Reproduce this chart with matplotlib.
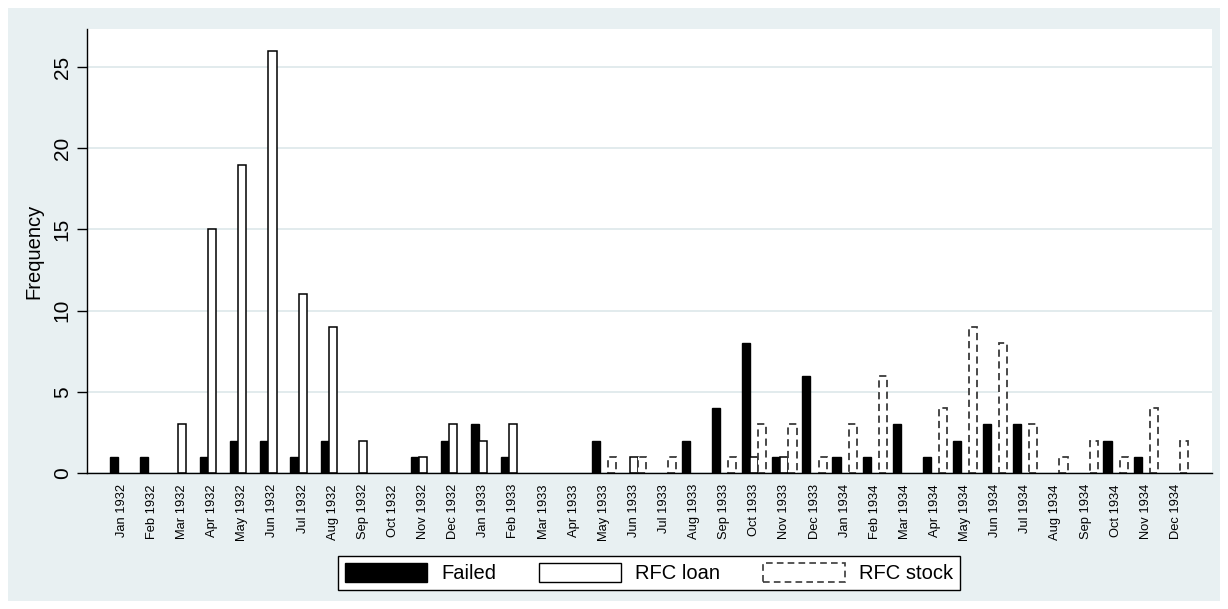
import matplotlib.pyplot as plt
import numpy as np
from matplotlib.patches import Patch, Rectangle

plt.rcParams['font.family'] = ['Liberation Sans', 'DejaVu Sans']

# monthly counts
months = ['Jan 1932', 'Feb 1932', 'Mar 1932', 'Apr 1932', 'May 1932', 'Jun 1932',
          'Jul 1932', 'Aug 1932', 'Sep 1932', 'Oct 1932', 'Nov 1932', 'Dec 1932',
          'Jan 1933', 'Feb 1933', 'Mar 1933', 'Apr 1933', 'May 1933', 'Jun 1933',
          'Jul 1933', 'Aug 1933', 'Sep 1933', 'Oct 1933', 'Nov 1933', 'Dec 1933',
          'Jan 1934', 'Feb 1934', 'Mar 1934', 'Apr 1934', 'May 1934', 'Jun 1934',
          'Jul 1934', 'Aug 1934', 'Sep 1934', 'Oct 1934', 'Nov 1934', 'Dec 1934']
failed = [1, 1, 0, 1, 2, 2, 1, 2, 0, 0, 1, 2,
          3, 1, 0, 0, 2, 0, 0, 2, 4, 8, 1, 6,
          1, 1, 3, 1, 2, 3, 3, 0, 0, 2, 1, 0]
rfc_loan = [0, 0, 3, 15, 19, 26, 11, 9, 2, 0, 1, 3,
            2, 3, 0, 0, 0, 1, 0, 0, 0, 1, 1, 0,
            0, 0, 0, 0, 0, 0, 0, 0, 0, 0, 0, 0]
rfc_stock = [0, 0, 0, 0, 0, 0, 0, 0, 0, 0, 0, 0,
             0, 0, 0, 0, 1, 1, 1, 0, 1, 3, 3, 1,
             3, 6, 0, 4, 9, 8, 3, 1, 2, 1, 4, 2]

bg = '#e8f0f2'
grid_col = '#dde7ea'
stock_col = '#3a3a3a'
stock_ls = (0, (4, 2.5))


def nz(vals):
    # empty months get no bar at all (no outline on the baseline)
    v = np.array(vals, dtype=float)
    v[v == 0] = np.nan
    return v


fig = plt.figure(figsize=(12.28, 6.09), dpi=100, facecolor='white')
# light graph region behind everything
fig.patches.append(Rectangle((8 / 1228, 8 / 609), 1 - 16 / 1228, 1 - 16 / 609,
                             transform=fig.transFigure, facecolor=bg,
                             edgecolor='none', zorder=-10))

ax = fig.add_axes([87 / 1228, 1 - 473 / 609, (1212 - 87) / 1228, (473 - 29) / 609])
ax.set_facecolor('white')

x = np.arange(len(months))
w = 0.27
ax.bar(x - w, nz(failed), w, color='black', edgecolor='black', linewidth=1.0, zorder=3)
ax.bar(x, nz(rfc_loan), w, color='white', edgecolor='black', linewidth=1.1, zorder=3)
ax.bar(x + w, nz(rfc_stock), w, color='white', edgecolor=stock_col, linewidth=1.3,
       linestyle=stock_ls, zorder=3)

ax.set_xlim(-1.16, 36.2)
ax.set_ylim(0, 27.35)
ax.set_xticks(x)
ax.set_xticklabels(months, rotation=90, fontsize=9.3, va='top', ha='center')
ax.tick_params(axis='x', length=0, pad=8)
ax.set_yticks(np.arange(0, 26, 5))
ax.set_yticklabels([str(v) for v in range(0, 26, 5)], rotation=90, va='center',
                   fontsize=15)
ax.tick_params(axis='y', length=7, width=1, direction='out', pad=4)
ax.set_ylabel('Frequency', fontsize=14.5, labelpad=7)

ax.grid(axis='y', color=grid_col, linewidth=1.2, zorder=0)
ax.set_axisbelow(True)
for side in ['top', 'right']:
    ax.spines[side].set_visible(False)
ax.spines['left'].set_linewidth(1.0)
ax.spines['bottom'].set_linewidth(1.0)
ax.spines['bottom'].set_zorder(5)

handles = [Patch(facecolor='black', edgecolor='black', label='Failed'),
           Patch(facecolor='white', edgecolor='black', linewidth=1.0, label='RFC loan'),
           Patch(facecolor='white', edgecolor=stock_col, linewidth=1.2,
                 linestyle=stock_ls, label='RFC stock')]
leg = fig.legend(handles=handles, loc='center', bbox_to_anchor=(649 / 1228, 1 - 573 / 609),
                 ncol=3, fontsize=14.5, frameon=True, fancybox=False, framealpha=1,
                 edgecolor='black', handlelength=4.1, handleheight=1.05,
                 handletextpad=0.7, columnspacing=2.1, borderpad=0.35)
leg.get_frame().set_linewidth(1.0)

plt.savefig('out.png', dpi=100, facecolor=fig.get_facecolor())
